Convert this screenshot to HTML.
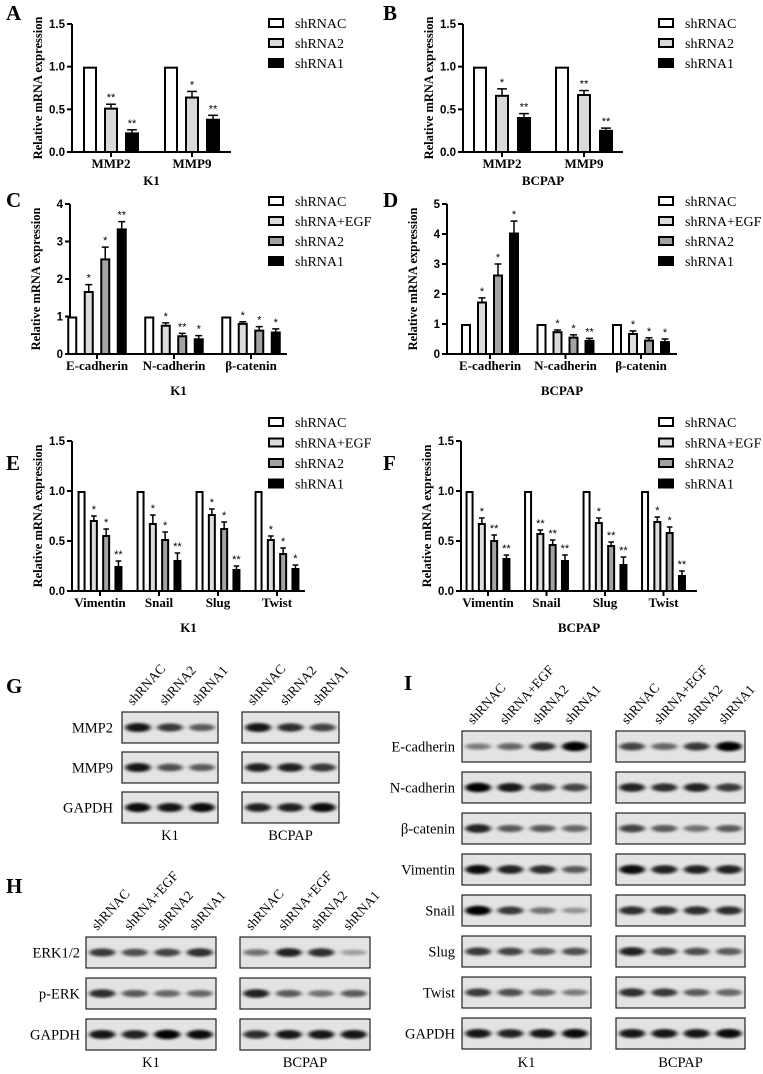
<!DOCTYPE html>
<html><head><meta charset="utf-8"><style>
html,body{margin:0;padding:0;background:#fff;}
svg{display:block;}
</style></head><body>
<svg id="fig" width="763" height="1074" viewBox="0 0 763 1074" xmlns="http://www.w3.org/2000/svg">
<defs>
<filter id="blur" x="-30%" y="-100%" width="160%" height="300%"><feGaussianBlur stdDeviation="2.4 1.4"/></filter>
</defs>
<g id="charts"></g>
<g id="blots"></g>
</svg>
<script>
// ---------- chart data ----------
const groupsMMP = ["MMP2","MMP9"];
const groupsCad = ["E-cadherin","N-cadherin","β-catenin"];
const groupsEmt = ["Vimentin","Snail","Slug","Twist"];
const series3 = ["shRNAC","shRNA2","shRNA1"];
const series4 = ["shRNAC","shRNA+EGF","shRNA2","shRNA1"];

const aVals = [[1,1],[0.52,0.65],[0.23,0.39]];
const aErr  = [[0,0],[0.04,0.06],[0.03,0.04]];
const aStar = [["",""],["**","*"],["**","**"]];

const bVals = [[1,1],[0.67,0.68],[0.41,0.26]];
const bErr  = [[0,0],[0.07,0.04],[0.04,0.02]];
const bStar = [["",""],["*","**"],["**","**"]];

const cVals = [[1,1,1],[1.68,0.78,0.83],[2.55,0.50,0.65],[3.35,0.42,0.60]];
const cErr  = [[0,0,0],[0.17,0.05,0.03],[0.30,0.05,0.08],[0.18,0.07,0.07]];
const cStar = [["","",""],["*","*","*"],["*","**","*"],["**","*","*"]];

const dVals = [[1,1,1],[1.75,0.76,0.70],[2.65,0.58,0.48],[4.05,0.47,0.43]];
const dErr  = [[0,0,0],[0.12,0.04,0.07],[0.35,0.06,0.06],[0.38,0.05,0.07]];
const dStar = [["","",""],["*","*","*"],["*","*","*"],["*","**","*"]];

const eVals = [[1,1,1,1],[0.71,0.68,0.77,0.52],[0.56,0.52,0.63,0.38],[0.25,0.31,0.22,0.23]];
const eErr  = [[0,0,0,0],[0.04,0.08,0.05,0.03],[0.06,0.07,0.06,0.05],[0.05,0.07,0.03,0.03]];
const eStar = [["","","",""],["*","*","*","*"],["*","*","*","*"],["**","**","**","*"]];

const fVals = [[1,1,1,1],[0.68,0.58,0.69,0.70],[0.51,0.47,0.46,0.59],[0.33,0.31,0.27,0.16]];
const fErr  = [[0,0,0,0],[0.05,0.03,0.04,0.04],[0.05,0.04,0.03,0.05],[0.03,0.05,0.07,0.04]];
const fStar = [["","","",""],["*","**","*","*"],["**","**","**","*"],["**","**","**","**"]];

const ticksMMP = [0,0.5,1.0,1.5];
const tickLabMMP = ["0.0","0.5","1.0","1.5"];
const ticksC = [0,1,2,3,4];
const ticksD = [0,1,2,3,4,5];

const NS="http://www.w3.org/2000/svg";
function mk(tag, attrs, parent, text){
  const e=document.createElementNS(NS,tag);
  for(const k in attrs) e.setAttribute(k,attrs[k]);
  if(text!==undefined) e.textContent=text;
  parent.appendChild(e); return e;
}
const fills3=["#ffffff","#d9d9d9","#000000"];
const fills4=["#ffffff","#dcdcdc","#a3a3a3","#000000"];
const SERIF='"Liberation Serif", serif';
const SANS='"Liberation Sans", sans-serif';

function chart(p){
  const root=document.getElementById('charts');
  const g=mk('g',{},root);
  
  
  const y=v=>p.y0-(v/p.ymax)*(p.y0-p.yTop);
  const gx=i=>p.g0+i*p.gStep;
  const ns=p.series.length;
  const L=mk('text',{x:p.lx,y:p.ly,'font-family':SERIF,'font-weight':'bold','font-size':21},g,p.id);
  
  
  const ya=mk('line',{x1:p.x0,y1:p.yTop,x2:p.x0,y2:p.y0+1,stroke:'#000','stroke-width':2},g);
  
  
  const xa=mk('line',{x1:p.x0-1,y1:p.y0,x2:p.x1,y2:p.y0,stroke:'#000','stroke-width':2},g);
  
  
  p.ticks.forEach((t,i)=>{
    mk('line',{x1:p.x0-5,y1:y(t),x2:p.x0,y2:y(t),stroke:'#000','stroke-width':2},g);
    const tl=mk('text',{x:p.x0-7,y:y(t)+4,'text-anchor':'end','font-family':SANS,'font-weight':'bold','font-size':11.5},g,p.tickLabels[i]);
    
    
  });
  const yt=mk('text',{x:0,y:0,transform:`translate(${p.x0-30},${(p.yTop+p.y0)/2}) rotate(-90)`,'text-anchor':'middle','font-family':SERIF,'font-weight':'bold','font-size':12.5},g,'Relative mRNA expression');
  
  
  p.groups.forEach((gn,gi)=>{
    const c=gx(gi);
    mk('line',{x1:c,y1:p.y0,x2:c,y2:p.y0+5,stroke:'#000','stroke-width':2},g);
    const xl=mk('text',{x:c,y:p.y0+16,'text-anchor':'middle','font-family':SERIF,'font-weight':'bold','font-size':13},g,gn);
    
    
    p.series.forEach((sn,si)=>{
      const bx=c+(si-(ns-1)/2)*p.bStep-p.bw/2;
      const v=p.vals[si][gi], e=p.err[si][gi];
      const top=y(v);
      if(e>0){
        mk('line',{x1:bx+p.bw/2,y1:y(v+e),x2:bx+p.bw/2,y2:top,stroke:'#000','stroke-width':1.5},g);
        mk('line',{x1:bx+p.bw/2-p.bw*0.35,y1:y(v+e),x2:bx+p.bw/2+p.bw*0.35,y2:y(v+e),stroke:'#000','stroke-width':1.5},g);
      }
      const r=mk('rect',{x:bx+1,y:top+1,width:p.bw-2,height:p.y0-top-1,fill:p.fills[si],stroke:'#000','stroke-width':2},g);
      
      
      const s=p.stars[si][gi];
      if(s){
        const st=mk('text',{x:bx+p.bw/2,y:y(v+e)-3,'text-anchor':'middle','font-family':SANS,'font-size':11},g,s);
        
        
      }
    });
  });
  const xt=mk('text',{x:(p.x0+p.x1)/2,y:p.xtY,'text-anchor':'middle','font-family':SERIF,'font-weight':'bold','font-size':13},g,p.cell);
  
  
  p.series.forEach((sn,si)=>{
    const ly=p.legY+si*p.legStep;
    const lg=mk('g',{},g);
    
    
    mk('rect',{x:p.legX+1,y:ly-4,width:14,height:8,fill:p.fills[si],stroke:'#000','stroke-width':2},lg);
    mk('text',{x:p.legX+27,y:ly+5,'font-family':SERIF,'font-size':14},lg,sn);
  });
}

chart({id:'A',lx:6,ly:20,x0:72,x1:231,yTop:24,y0:152,ymax:1.5,ticks:ticksMMP,tickLabels:tickLabMMP,groups:groupsMMP,series:series3,fills:fills3,vals:aVals,err:aErr,stars:aStar,g0:111,gStep:81,bw:14,bStep:21,cell:'K1',xtY:185,legX:268,legY:23,legStep:20});
chart({id:'B',lx:383,ly:20,x0:463,x1:623,yTop:24,y0:152,ymax:1.5,ticks:ticksMMP,tickLabels:tickLabMMP,groups:groupsMMP,series:series3,fills:fills3,vals:bVals,err:bErr,stars:bStar,g0:502,gStep:82,bw:14,bStep:22,cell:'BCPAP',xtY:185,legX:658,legY:23,legStep:20});
chart({id:'C',lx:6,ly:207,x0:70,x1:287,yTop:204,y0:354,ymax:4,ticks:ticksC,tickLabels:["0","1","2","3","4"],groups:groupsCad,series:series4,fills:fills4,vals:cVals,err:cErr,stars:cStar,g0:97,gStep:77,bw:10,bStep:16.5,cell:'K1',xtY:395,legX:268,legY:201,legStep:20});
chart({id:'D',lx:383,ly:207,x0:447,x1:677,yTop:204,y0:354,ymax:5,ticks:ticksD,tickLabels:["0","1","2","3","4","5"],groups:groupsCad,series:series4,fills:fills4,vals:dVals,err:dErr,stars:dStar,g0:490,gStep:75.5,bw:10,bStep:16,cell:'BCPAP',xtY:395,legX:658,legY:201,legStep:20});
chart({id:'E',lx:6,ly:470,x0:72,x1:305,yTop:441,y0:591,ymax:1.5,ticks:ticksMMP,tickLabels:tickLabMMP,groups:groupsEmt,series:series4,fills:fills4,vals:eVals,err:eErr,stars:eStar,g0:100,gStep:59,bw:8,bStep:12.3,cell:'K1',xtY:632,legX:268,legY:422,legStep:20.5});
chart({id:'F',lx:383,ly:470,x0:461,x1:697,yTop:441,y0:591,ymax:1.5,ticks:ticksMMP,tickLabels:tickLabMMP,groups:groupsEmt,series:series4,fills:fills4,vals:fVals,err:fErr,stars:fStar,g0:488,gStep:58.5,bw:8,bStep:12.3,cell:'BCPAP',xtY:632,legX:658,legY:422,legStep:20.5});

// ---------- western blots ----------
const gRows=["MMP2","MMP9","GAPDH"];
const gK1=[[0.9,0.75,0.6],[0.9,0.65,0.6],[0.95,0.9,0.95]];
const gBC=[[0.9,0.8,0.7],[0.85,0.85,0.75],[0.85,0.85,0.95]];
const hRows=["ERK1/2","p-ERK","GAPDH"];
const hK1=[[0.75,0.65,0.7,0.8],[0.8,0.6,0.55,0.55],[0.9,0.85,1,0.95]];
const hBC=[[0.5,0.85,0.8,0.3],[0.85,0.6,0.5,0.6],[0.8,0.9,0.9,0.9]];
const iRows=["E-cadherin","N-cadherin","β-catenin","Vimentin","Snail","Slug","Twist","GAPDH"];
const iK1=[[0.45,0.55,0.8,1],[1,0.9,0.7,0.7],[0.85,0.6,0.6,0.55],[0.95,0.85,0.8,0.6],[1,0.75,0.5,0.35],[0.75,0.7,0.6,0.65],[0.75,0.65,0.55,0.45],[0.9,0.85,0.9,0.95]];
const iBC=[[0.7,0.55,0.75,1],[0.85,0.8,0.85,0.75],[0.7,0.6,0.5,0.6],[0.95,0.85,0.85,0.85],[0.8,0.8,0.8,0.8],[0.85,0.7,0.65,0.6],[0.8,0.75,0.6,0.55],[0.9,0.9,0.9,0.95]];
const lanes3=["shRNAC","shRNA2","shRNA1"];
const lanes4=["shRNAC","shRNA+EGF","shRNA2","shRNA1"];

function blot(p){
  const root=document.getElementById('blots');
  const g=mk('g',{},root);
  
  
  const n=p.lanes.length;
  const lw=(p.x1-p.x0)/n;
  p.lanes.forEach((ln,li)=>{
    const cx=p.x0+lw*(li+0.5);
    const t=mk('text',{x:0,y:0,transform:`translate(${cx-5},${p.rowY0-6}) rotate(-48)`,'font-family':SERIF,'font-size':13.5},g,ln);
    
    
  });
  p.vals.forEach((row,ri)=>{
    const ry=p.rowY0+ri*p.rowStep;
    const bg=mk('rect',{x:p.x0,y:ry,width:p.x1-p.x0,height:p.rowH,fill:'#e3e3e3',stroke:'#222','stroke-width':1.2},g);
    
    
    row.forEach((v,li)=>{
      const cx=p.x0+lw*(li+0.5);
      const b=mk('ellipse',{cx:cx,cy:ry+p.rowH/2,rx:lw*0.4,ry:2+2.8*v,fill:'#000',opacity:v,filter:'url(#blur)'},g);
      
      
    });
    if(p.rows){
      const rl=mk('text',{x:p.labX,y:ry+p.rowH/2+5,'text-anchor':'end','font-family':SERIF,'font-size':14.5},g,p.rows[ri]);
      
      
    }
  });
  const cl=mk('text',{x:(p.x0+p.x1)/2,y:p.cellY,'text-anchor':'middle','font-family':SERIF,'font-size':14.5},g,p.cell);
  
  
}
function letter(t,x,y){
  const e=mk('text',{x:x,y:y,'font-family':SERIF,'font-weight':'bold','font-size':21},document.getElementById('blots'),t);
  
  
}
letter('G',6,693); letter('H',6,893); letter('I',404,690);
blot({name:'G-K1',lanes:lanes3,rows:gRows,vals:gK1,x0:122,x1:218,rowY0:712,rowStep:40,rowH:31,labX:113,cell:'K1',cellY:840});
blot({name:'G-BCPAP',lanes:lanes3,vals:gBC,x0:242,x1:339,rowY0:712,rowStep:40,rowH:31,cell:'BCPAP',cellY:840});
blot({name:'H-K1',lanes:lanes4,rows:hRows,vals:hK1,x0:86,x1:216,rowY0:937,rowStep:41,rowH:31,labX:80,cell:'K1',cellY:1067});
blot({name:'H-BCPAP',lanes:lanes4,vals:hBC,x0:240,x1:370,rowY0:937,rowStep:41,rowH:31,cell:'BCPAP',cellY:1067});
blot({name:'I-K1',lanes:lanes4,rows:iRows,vals:iK1,x0:462,x1:591,rowY0:731,rowStep:41,rowH:31,labX:455,cell:'K1',cellY:1067});
blot({name:'I-BCPAP',lanes:lanes4,vals:iBC,x0:616,x1:745,rowY0:731,rowStep:41,rowH:31,cell:'BCPAP',cellY:1067});
</script>
</body></html>
